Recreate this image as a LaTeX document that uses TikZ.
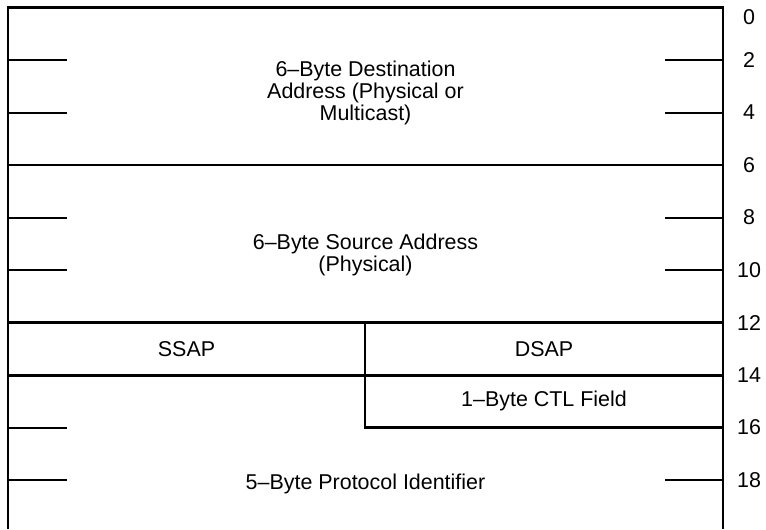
\documentclass[tikz,border=0pt]{standalone}
\usepackage{fontspec}
\setmainfont{Liberation Sans}
\begin{document}
\begin{tikzpicture}[
        x=0.03cm,
        y=-0.7875cm,
        every node/.style={font=\fontsize{18.3}{18.6}\selectfont},
        frameline/.style={line width=1.9pt},
        heavyline/.style={line width=2.6pt},
        tickline/.style={line width=1.7pt},
        field/.style={align=center, inner sep=0pt},
        offset/.style={inner sep=0pt}
    ]
    \useasboundingbox (0,-0.2857) rectangle (766,19.867);

    % Outer frame, open at the bottom
    \draw[frameline] (8,19.867) -- (8,0) -- (723,0) -- (723,19.867);

    % Field borders
    \draw[frameline] (8,6) -- (723,6);
    \draw[frameline] (8,12) -- (723,12);
    \draw[heavyline] (8,14) -- (723,14);
    \draw[frameline] (365,12) -- (365,16) -- (723,16);

    % Word ticks
    \foreach \k in {2,4,8,10,16,18}
        \draw[tickline] (8,\k) -- (67,\k);
    \foreach \k in {2,4,8,10,18}
        \draw[tickline] (665,\k) -- (723,\k);

    % Byte offsets
    \node[offset] (off0) at (749,0.36) {0};
    \foreach \k in {2,4,...,18}
        \node[offset] (off\k) at (749,\k) {\k};

    % Field names
    \node[field] (dest) at (365.5,3.26)
    {6--Byte Destination\\Address (Physical or\\Multicast)};
    \node[field] (src) at (365.5,9.43)
    {6--Byte Source Address\\(Physical)};
    \node[field] (ssap) at (186.5,13) {SSAP};
    \node[field] (dsap) at (544,13) {DSAP};
    \node[field] (ctl) at (544,15) {1--Byte CTL Field};
    \node[field] (proto) at (365.5,18.15) {5--Byte Protocol Identifier};

\end{tikzpicture}
\end{document}
